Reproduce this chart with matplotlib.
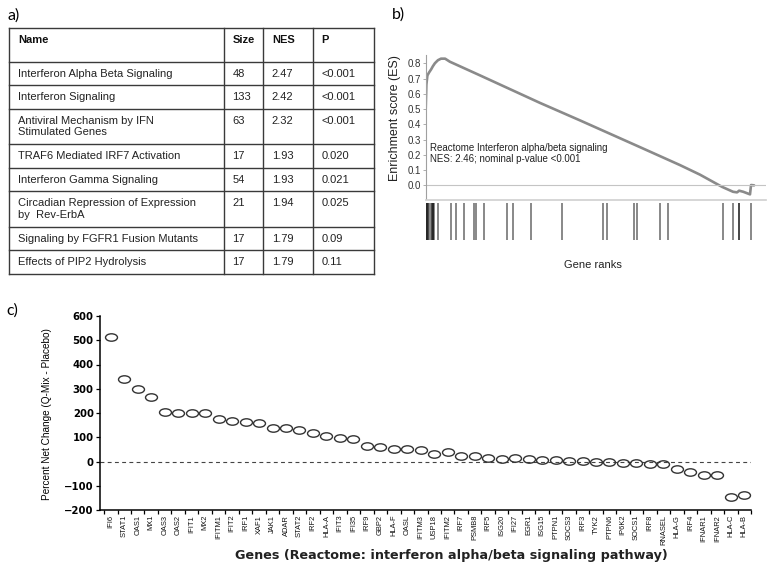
import numpy as np
import matplotlib
matplotlib.use("Agg")
import matplotlib.pyplot as plt
from matplotlib.path import Path
from matplotlib.transforms import Affine2D

# ---- panel a: GSEA table ----
tab_cols = ["Name", "Size", "NES", "P"]
tab_names = ["Interferon Alpha Beta Signaling",
             "Interferon Signaling",
             "Antiviral Mechanism by IFN\nStimulated Genes",
             "TRAF6 Mediated IRF7 Activation",
             "Interferon Gamma Signaling",
             "Circadian Repression of Expression\nby  Rev-ErbA",
             "Signaling by FGFR1 Fusion Mutants",
             "Effects of PIP2 Hydrolysis"]
tab_size = ["48", "133", "63", "17", "54", "21", "17", "17"]
tab_nes = ["2.47", "2.42", "2.32", "1.93", "1.93", "1.94", "1.79", "1.79"]
tab_p = ["<0.001", "<0.001", "<0.001", "0.020", "0.021", "0.025", "0.09", "0.11"]

# ---- panel b: running enrichment score ----
es_rank = [0, 2, 5, 10, 16, 21, 27, 36, 45, 57, 71, 160, 336, 454, 630, 747,
           806, 871, 903, 915, 921, 933, 953, 956, 965]
es_val = [0.50, 0.66, 0.72, 0.74, 0.76, 0.78, 0.80, 0.82, 0.83, 0.83, 0.81,
          0.72, 0.54, 0.425, 0.25, 0.133, 0.07, -0.01, -0.042, -0.046,
          -0.035, -0.042, -0.059, 0.002, 0.0]
hit_rank = [0.6, 2.6, 4.7, 6.8, 8.8, 16.5, 18.5, 20.6, 22.6, 24.7, 37, 73, 88,
            113, 142, 148, 171, 238, 257, 309, 400, 522, 532, 613, 620, 689,
            711, 873, 904, 920, 922, 955]

# ---- panel c: percent net change per gene ----
genes = ["IFI6", "STAT1", "OAS1", "MX1", "OAS3", "OAS2", "IFIT1", "MX2",
         "IFITM1", "IFIT2", "IRF1", "XAF1", "JAK1", "ADAR", "STAT2", "IRF2",
         "HLA-A", "IFIT3", "IFI35", "IRF9", "GBP2", "HLA-F", "OASL", "IFITM3",
         "USP18", "IFITM2", "IRF7", "PSMB8", "IRF5", "ISG20", "IFI27", "EGR1",
         "ISG15", "PTPN1", "SOCS3", "IRF3", "TYK2", "PTPN6", "IP6K2", "SOCS1",
         "IRF8", "RNASEL", "HLA-G", "IRF4", "IFNAR1", "IFNAR2", "HLA-C", "HLA-B"]
net_change = [514, 342, 297, 266, 206, 202, 201, 198, 174, 169, 162, 157, 137,
              137, 131, 119, 105, 97, 92, 62, 59, 53, 51, 48, 29, 38, 23, 21,
              16, 12, 14, 10, 6, 6, 4, 1, -3, -3, -5, -5, -10, -10, -32, -44,
              -54, -55, -146, -138]

W, H = 771, 566


def rect(l, t, r, b):
    return [l / W, 1 - b / H, (r - l) / W, (b - t) / H]


fig = plt.figure(figsize=(W / 100, H / 100), dpi=100)
fig.patch.set_facecolor("white")

# panel labels
for lab, x, y in [("a)", 7, 16), ("b)", 392, 15), ("c)", 6, 311)]:
    fig.text(x / W, 1 - y / H, lab, fontsize=11.5, family="Lato",
             va="center", ha="left")

# ---- table ----
ta = fig.add_axes([0, 0, 1, 1])
ta.set_xlim(0, W)
ta.set_ylim(H, 0)
ta.axis("off")
ta.patch.set_alpha(0)

col_x = [9.3, 224, 263.3, 312.7, 374]
row_h = [33.3] + [35.5 if "\n" in n else 23.5 for n in tab_names]
row_top = 28.3 + np.concatenate([[0], np.cumsum(row_h)])
lc = "#3a3a3a"
for y in row_top:
    ta.plot([col_x[0], col_x[-1]], [y, y], color=lc, lw=1.0)
for x in col_x:
    ta.plot([x, x], [row_top[0], row_top[-1]], color=lc, lw=1.0)

for j, c in enumerate(tab_cols):
    ta.text(col_x[j] + 8.5, row_top[0] + 12, c, fontsize=8, weight="bold",
            family="Liberation Sans", va="center", color="#111")
for i in range(len(tab_names)):
    cells = [tab_names[i], tab_size[i], tab_nes[i], tab_p[i]]
    for j, c in enumerate(cells):
        for k, line in enumerate(c.split("\n")):
            ta.text(col_x[j] + 8.5, row_top[i + 1] + 12 + k * 11.7, line,
                    fontsize=8, family="Liberation Sans", va="center",
                    color="#222")

# ---- panel b ----
gray = "#8a8a8a"
axb = fig.add_axes(rect(425.7, 55, 766, 200))
axb.plot(es_rank, es_val, color=gray, lw=1.9, solid_capstyle="round")
axb.axhline(0, color="#c4c4c4", lw=0.8)
axb.set_xlim(0, 1000)
axb.set_ylim(-0.096, 0.854)
axb.set_yticks(np.arange(0, 0.81, 0.1))
axb.set_yticklabels([f"{v:.1f}" for v in np.arange(0, 0.81, 0.1)])
axb.set_xticks([])
for s in ["top", "right", "bottom"]:
    axb.spines[s].set_visible(False)
axb.spines["left"].set_color("#a0a0a0")
axb.spines["left"].set_linewidth(0.8)
axb.tick_params(axis="y", length=2, width=0.6, color="#a0a0a0", pad=1.5,
                labelsize=7, labelcolor="#333")
for t in axb.get_yticklabels():
    t.set_family("Liberation Sans")
axb.text(12, 0.243, "Reactome Interferon alpha/beta signaling", fontsize=7,
         family="Liberation Sans", va="center", color="#222")
axb.text(12, 0.17, "NES: 2.46; nominal p-value <0.001", fontsize=7,
         family="Liberation Sans", va="center", color="#222")

axh = fig.add_axes(rect(425.7, 200, 766, 240))
axh.vlines(hit_rank, 0, 0.92, color="black", alpha=0.5, lw=1.3)
axh.set_xlim(0, 1000)
axh.set_ylim(0, 1)
axh.set_xticks([])
axh.set_yticks([])
for s in ["right", "bottom", "left"]:
    axh.spines[s].set_visible(False)
axh.spines["top"].set_color("#cfcfcf")
axh.spines["top"].set_linewidth(1.2)

fig.text(395 / W, 1 - 118 / H, "Enrichment score (ES)", rotation=90,
         fontsize=9, family="Liberation Sans", va="center", ha="center",
         color="#222")
fig.text(593 / W, 1 - 265 / H, "Gene ranks", fontsize=8,
         family="Liberation Sans", va="center", ha="center", color="#222")

# ---- panel c ----
axc = fig.add_axes(rect(100, 316, 751, 510))
ell = Affine2D().scale(1.0, 0.62).transform_path(Path.unit_circle())
xpos = np.arange(len(genes))
axc.axhline(0, color="#444", lw=0.8, ls=(0, (3.5, 3)))
axc.plot(xpos, net_change, ls="none", marker=ell, ms=8.6, mfc="none",
         mec="#333", mew=1.0)
axc.set_xlim(-0.8, len(genes) - 0.5)
axc.set_ylim(-200, 600)
axc.set_yticks(range(-200, 601, 100))
axc.set_xticks(xpos)
axc.set_xticklabels(genes, rotation=90, fontsize=5.4, family="Liberation Sans",
                    color="#111")
axc.set_xticks(np.arange(-0.5, len(genes)), minor=True)
axc.tick_params(axis="x", which="major", length=0, pad=3.5)
axc.tick_params(axis="x", which="minor", length=3, width=0.9)
axc.tick_params(axis="y", length=3, width=0.9, labelsize=7.3, pad=1.5)
for t in axc.get_yticklabels():
    t.set_weight("bold")
for s in ["top", "right"]:
    axc.spines[s].set_visible(False)
for s in ["left", "bottom"]:
    axc.spines[s].set_linewidth(1.1)

fig.text(46.7 / W, 1 - 414 / H, "Percent Net Change (Q-Mix - Placebo)",
         rotation=90, fontsize=7.2, family="Liberation Sans", va="center",
         ha="center")
fig.text(451 / W, 1 - 555 / H,
         "Genes (Reactome: interferon alpha/beta signaling pathway)",
         fontsize=9.2, weight="bold", va="center", ha="center", color="#222")

fig.savefig("out.png", dpi=100)
